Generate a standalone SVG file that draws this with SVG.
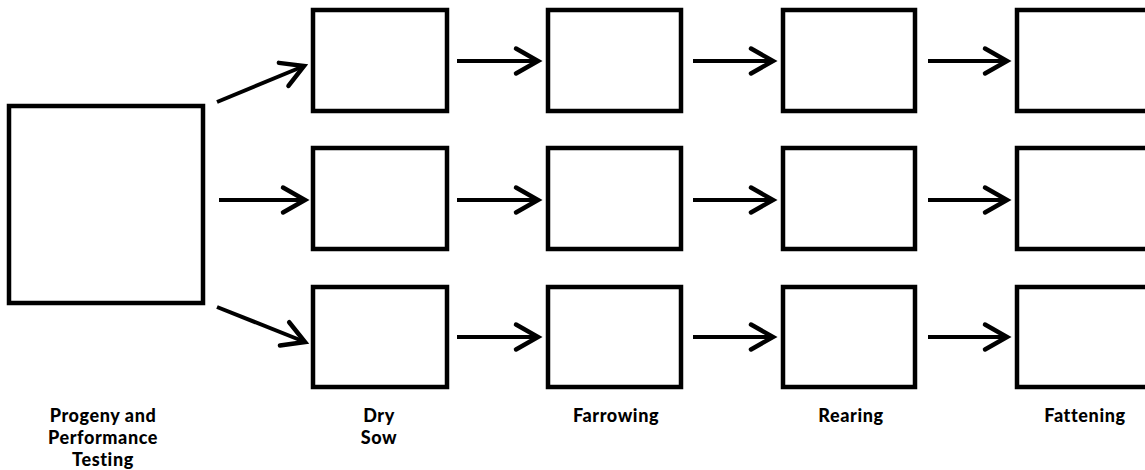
<svg xmlns="http://www.w3.org/2000/svg" width="1145" height="470" viewBox="0 0 1145 470">
<defs>
<marker id="ah" markerUnits="userSpaceOnUse" markerWidth="40" markerHeight="40" viewBox="-30 -20 40 40" refX="0" refY="0" orient="auto" overflow="visible">
<path d="M-22,-12.5 L0,0 L-22,12.5" fill="none" stroke="#000" stroke-width="4.5" stroke-linecap="round" stroke-linejoin="miter"/>
</marker>
</defs>
<style>
.box{fill:#fff;stroke:#000;stroke-width:4.5}
.lbl{font-family:Lato,"Open Sans","Liberation Sans",sans-serif;font-weight:900;font-size:18px;letter-spacing:0.6px;fill:#000;text-anchor:middle}
.arr{stroke:#000;stroke-width:4;fill:none;marker-end:url(#ah)}
</style>
<rect width="1145" height="470" fill="#fff"/>
<g id="testing">
<rect class="box" x="9" y="106" width="194" height="197"/>
<text class="lbl" x="103" y="422"><tspan x="103" y="422">Progeny and</tspan><tspan x="103" y="444">Performance</tspan><tspan x="103" y="466">Testing</tspan></text>
</g>
<g id="drysow">
<rect class="box" x="313" y="10" width="134" height="101"/>
<rect class="box" x="313" y="148" width="134" height="101"/>
<rect class="box" x="313" y="287" width="134" height="100"/>
<text class="lbl" x="379" y="422"><tspan x="379" y="422">Dry</tspan><tspan x="379" y="444">Sow</tspan></text>
</g>
<g id="farrowing">
<rect class="box" x="548" y="10" width="133" height="101"/>
<rect class="box" x="548" y="148" width="133" height="101"/>
<rect class="box" x="548" y="287" width="133" height="100"/>
<text class="lbl" x="616" y="422">Farrowing</text>
</g>
<g id="rearing">
<rect class="box" x="783" y="10" width="132" height="101"/>
<rect class="box" x="783" y="148" width="132" height="101"/>
<rect class="box" x="783" y="287" width="132" height="100"/>
<text class="lbl" x="851" y="422">Rearing</text>
</g>
<g id="fattening">
<rect class="box" x="1017" y="10" width="134" height="101"/>
<rect class="box" x="1017" y="148" width="134" height="101"/>
<rect class="box" x="1017" y="287" width="134" height="100"/>
<text class="lbl" x="1085" y="422">Fattening</text>
</g>
<g id="connectors">
<line class="arr" x1="217" y1="102" x2="304" y2="66"/>
<line class="arr" x1="219" y1="200" x2="305" y2="200"/>
<line class="arr" x1="217" y1="307" x2="305" y2="342"/>
<line class="arr" x1="457" y1="61" x2="538" y2="61"/>
<line class="arr" x1="457" y1="200" x2="538" y2="200"/>
<line class="arr" x1="457" y1="337" x2="538" y2="337"/>
<line class="arr" x1="693" y1="61" x2="773" y2="61"/>
<line class="arr" x1="693" y1="200" x2="773" y2="200"/>
<line class="arr" x1="693" y1="337" x2="773" y2="337"/>
<line class="arr" x1="928" y1="61" x2="1007" y2="61"/>
<line class="arr" x1="928" y1="200" x2="1007" y2="200"/>
<line class="arr" x1="928" y1="337" x2="1007" y2="337"/>
</g>
</svg>
